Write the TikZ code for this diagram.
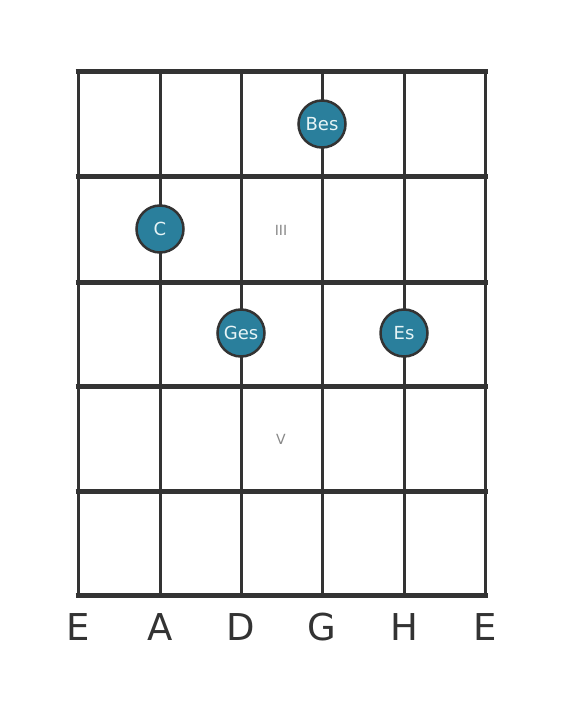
\documentclass[tikz,border=0pt]{standalone}
\usepackage{fontspec}
\setmainfont{DejaVu Sans}
\usepackage{xcolor}
\usetikzlibrary{positioning}
\definecolor{gridgray}{HTML}{333333}
\definecolor{dotteal}{HTML}{2A7F9C}
\definecolor{dottext}{HTML}{E6F4F6}
\definecolor{labelgray}{HTML}{888888}

\begin{document}
\begin{tikzpicture}[x=1pt,y=-1pt]
\tikzset{fretline/.style={gridgray,line width=5pt},
stringline/.style={gridgray,line width=3pt},
notedot/.style={circle,draw=gridgray,line width=2.5pt,fill=dotteal,minimum size=47pt,inner sep=0pt,text=dottext,font=\fontsize{18}{18}\selectfont},
fretmark/.style={text=labelgray,font=\fontsize{14}{14}\selectfont},
stringname/.style={text=gridgray,font=\fontsize{37}{37}\selectfont}}
\useasboundingbox (0,0) rectangle (566,711);
\foreach \x in {78,160,241,322,404,485}
  \draw[stringline] (\x,72) -- (\x,595);
\foreach \y in {72,177,282,386,491,595}
  \draw[fretline] (75.5,\y) -- (487.5,\y);
\node[notedot](bes) at (322,124){Bes};
\node[notedot](c) at (160,229){C};
\node[notedot](ges) at (241,333){Ges};
\node[notedot](es) at (404,333){Es};
\node[fretmark](three) at (281,230){III};
\node[fretmark](five) at (281,439){V};
\node[stringname](s6) at (78,627){E};
\node[stringname](s5) at (160,627){A};
\node[stringname](s4) at (241,627){D};
\node[stringname](s3) at (322,627){G};
\node[stringname](s2) at (404,627){H};
\node[stringname](s1) at (485,627){E};
\end{tikzpicture}
\end{document}
